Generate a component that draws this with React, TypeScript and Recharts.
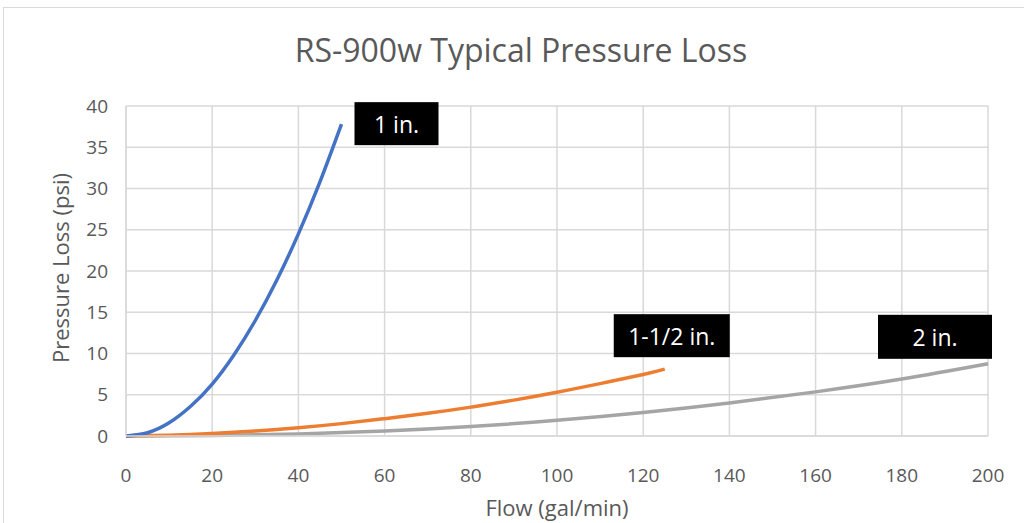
import React from "react";
import { LineChart, Line, XAxis, YAxis, CartesianGrid, LabelList, Label } from "recharts";

const flow1 = [0, 5, 10, 15, 20, 25, 30, 35, 40, 45, 50];
const loss1 = [0, 0.4, 1.6, 3.6, 6.3, 9.8, 14.0, 18.9, 24.5, 30.8, 37.8];
const flow15 = [0, 10, 20, 30, 40, 50, 60, 70, 80, 90, 100, 110, 120, 125];
const loss15 = [0, 0.1, 0.3, 0.6, 1.0, 1.5, 2.1, 2.75, 3.5, 4.35, 5.3, 6.35, 7.45, 8.1];
const flow2 = [0, 20, 40, 60, 80, 100, 120, 140, 160, 180, 200];
const loss2 = [0, 0.05, 0.25, 0.6, 1.15, 1.9, 2.85, 4.0, 5.35, 6.9, 8.75];

const xTicks = [0, 20, 40, 60, 80, 100, 120, 140, 160, 180, 200];
const yTicks = [0, 5, 10, 15, 20, 25, 30, 35, 40];
const seriesNames = ["1 in.", "1-1/2 in.", "2 in."];
const title = "RS-900w Typical Pressure Loss";
const xTitle = "Flow (gal/min)";
const yTitle = "Pressure Loss (psi)";

const zip = (xs: number[], ys: number[]) => xs.map((x, i) => ({ flow: x, loss: ys[i] }));
const data1 = zip(flow1, loss1);
const data15 = zip(flow15, loss15);
const data2 = zip(flow2, loss2);

const FONT = "'Open Sans', sans-serif";
const TXT = "#595959";

type BoxCfg = { dx: number; dy: number; w: number; h: number };

const makeEndLabel = (name: string, lastIndex: number, cfg: BoxCfg) => (props: any) => {
  const { x, y, index } = props;
  if (index !== lastIndex || x == null || y == null) return null;
  const rx = x + cfg.dx;
  const ry = y + cfg.dy;
  return (
    <g>
      <rect x={rx} y={ry} width={cfg.w} height={cfg.h} fill="#000000" />
      <text
        x={rx + cfg.w / 2}
        y={ry + cfg.h / 2}
        textAnchor="middle"
        dominantBaseline="central"
        fill="#ffffff"
        fontFamily={FONT}
        fontSize={23}
      >
        {name}
      </text>
    </g>
  );
};

export default function App() {
  return (
    <div
      style={{
        position: "fixed",
        left: 0,
        top: 0,
        width: 1024,
        height: 523,
        background: "#ffffff",
        overflow: "hidden",
      }}
    >
      <div
        style={{
          position: "absolute",
          left: 3,
          top: 7,
          width: 1040,
          height: 540,
          border: "1px solid #d9d9d9",
          boxSizing: "border-box",
        }}
      />
      <svg width={1024} height={80} style={{ position: "absolute", left: 0, top: 0 }}>
        <text x={521} y={62} textAnchor="middle" fontFamily={FONT} fontSize={32} fill={TXT}>
          {title}
        </text>
      </svg>
      <div style={{ position: "absolute", left: 0, top: 0 }}>
        <LineChart width={1024} height={523} margin={{ top: 106, right: 36, bottom: 37, left: 66 }}>
          <CartesianGrid stroke="#d9d9d9" strokeWidth={1.5} />
          <XAxis
            dataKey="flow"
            type="number"
            domain={[0, 200]}
            ticks={xTicks}
            allowDuplicatedCategory={false}
            height={50}
            tickSize={0}
            tickMargin={33}
            tickLine={false}
            axisLine={{ stroke: "#d9d9d9", strokeWidth: 1.5 }}
            tick={{ fill: TXT, fontSize: 19, fontFamily: FONT }}
          >
            <Label
              content={(p: any) => {
                const vb = p.viewBox || {};
                return (
                  <text
                    x={vb.x + vb.width / 2}
                    y={vb.y + 80}
                    textAnchor="middle"
                    fill={TXT}
                    fontFamily={FONT}
                    fontSize={22}
                  >
                    {xTitle}
                  </text>
                );
              }}
            />
          </XAxis>
          <YAxis
            type="number"
            domain={[0, 40]}
            ticks={yTicks}
            width={60}
            tickSize={0}
            tickMargin={18}
            tickLine={false}
            axisLine={{ stroke: "#d9d9d9", strokeWidth: 1.5 }}
            tick={{ fill: TXT, fontSize: 19, fontFamily: FONT }}
          >
            <Label
              content={(p: any) => {
                const vb = p.viewBox || {};
                const cx = vb.x - 6;
                const cy = vb.y + vb.height / 2 - 3;
                return (
                  <text
                    x={cx}
                    y={cy}
                    textAnchor="middle"
                    dominantBaseline="central"
                    transform={`rotate(-90, ${cx}, ${cy})`}
                    fill={TXT}
                    fontFamily={FONT}
                    fontSize={22}
                  >
                    {yTitle}
                  </text>
                );
              }}
            />
          </YAxis>
          <Line data={data2} dataKey="loss" type="natural" stroke="#A5A5A5" strokeWidth={3.5} dot={false} isAnimationActive={false}>
            <LabelList
              dataKey="loss"
              content={makeEndLabel(seriesNames[2], data2.length - 1, { dx: -110, dy: -49, w: 114, h: 44 })}
            />
          </Line>
          <Line data={data15} dataKey="loss" type="natural" stroke="#ED7D31" strokeWidth={3.5} dot={false} isAnimationActive={false}>
            <LabelList
              dataKey="loss"
              content={makeEndLabel(seriesNames[1], data15.length - 1, { dx: -51, dy: -55, w: 116, h: 43 })}
            />
          </Line>
          <Line data={data1} dataKey="loss" type="natural" stroke="#4472C4" strokeWidth={3.5} dot={false} isAnimationActive={false}>
            <LabelList
              dataKey="loss"
              content={makeEndLabel(seriesNames[0], data1.length - 1, { dx: 13, dy: -22, w: 84, h: 43 })}
            />
          </Line>
        </LineChart>
      </div>
    </div>
  );
}
